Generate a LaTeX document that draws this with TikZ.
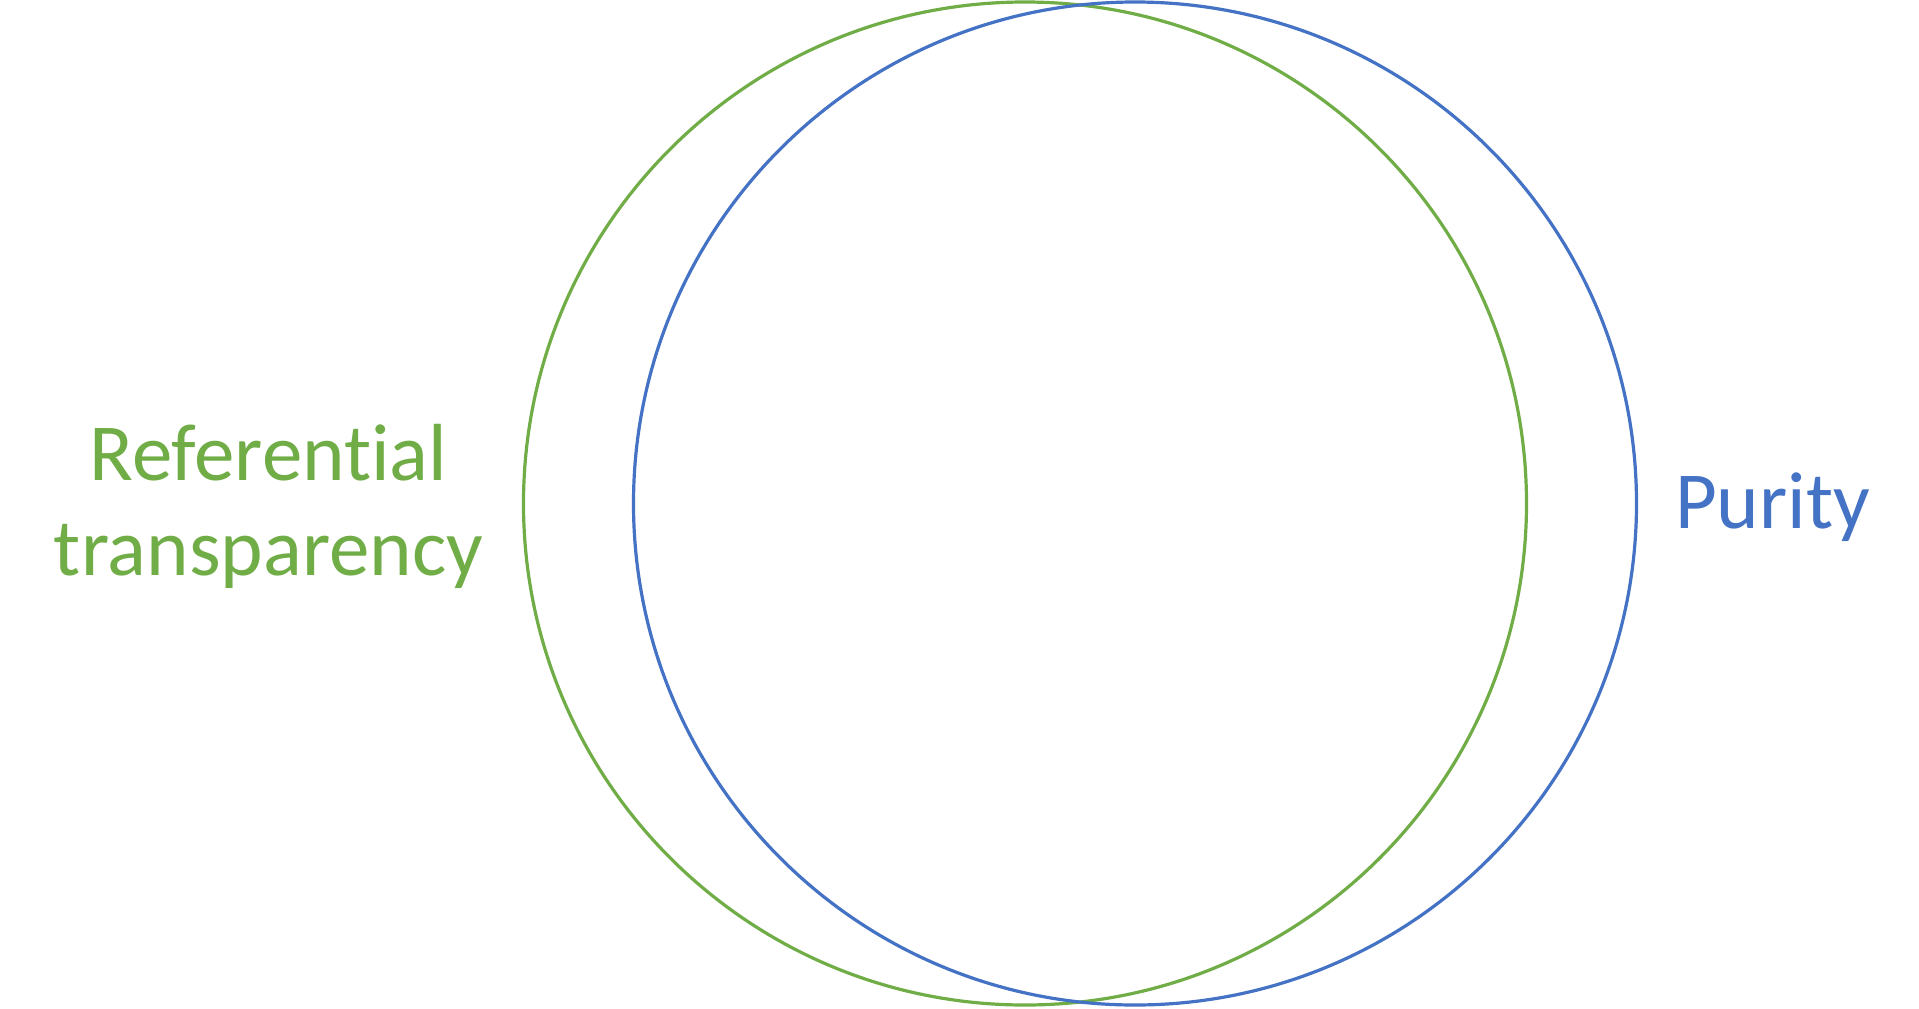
\documentclass[tikz,border=0pt]{standalone}
\usepackage{fontspec}
\setmainfont{Carlito}[RawFeature={-liga}]
\definecolor{rtgreen}{HTML}{70AD47}
\definecolor{pureblue}{HTML}{4472C4}
\begin{document}
\begin{tikzpicture}[x=0.5pt,y=-0.5pt,
    ring/.style={line width=1.6pt},
    setlabel/.style={font=\fontsize{40.5}{47.5}\selectfont,inner sep=0pt,align=center}]
	\useasboundingbox (0,0) rectangle (1919,1008);

	\draw[ring,rtgreen] (1025,503.5) circle[radius=250.75pt];
	\draw[ring,pureblue] (1135,503.5) circle[radius=250.75pt];

	\node[setlabel,text=rtgreen] (reftrans) at (268.5,506) {Referential\\transparency};
	\node[setlabel,text=pureblue,anchor=base] (purity) at (1772.5,528) {Purity};
\end{tikzpicture}
\end{document}
